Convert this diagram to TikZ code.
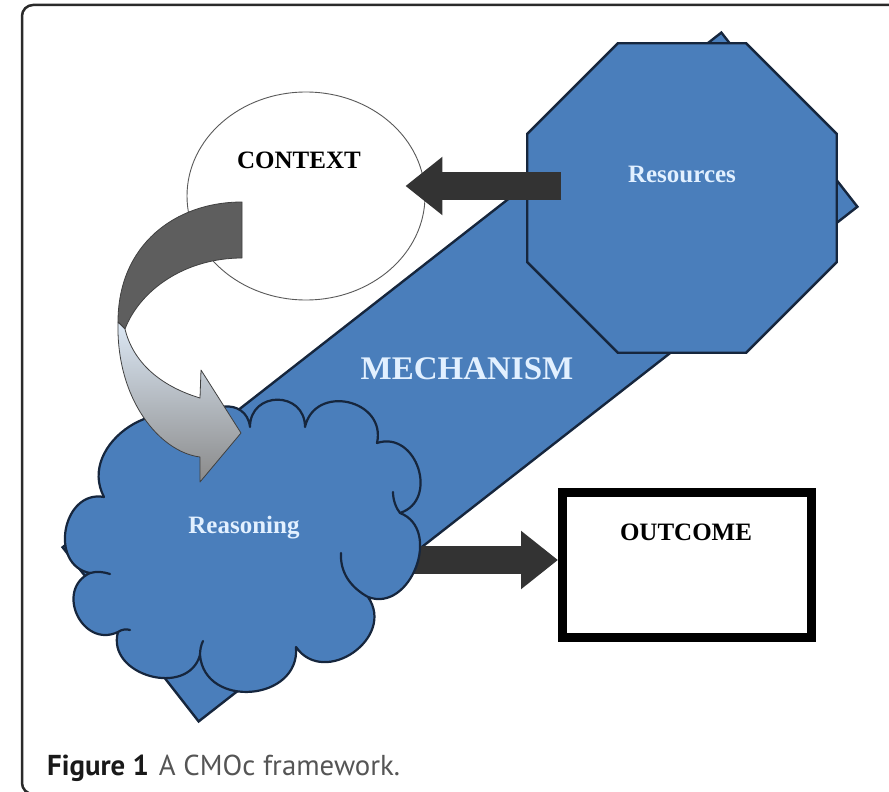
\documentclass[tikz,border=0pt]{standalone}
\usepackage{fontspec}
\setmainfont{Liberation Serif}
\newfontfamily\captionfont{PT Sans}
\usetikzlibrary{shapes.geometric,arrows.meta,calc}
\definecolor{cmoblue}{HTML}{4A7EBB}
\definecolor{cmoedge}{HTML}{16263D}
\definecolor{labelwhite}{HTML}{E2F0FF}
\definecolor{arrowdark}{HTML}{333333}
\definecolor{ribbondark}{HTML}{5E5E5E}
\definecolor{ribbonlight}{HTML}{DCE8F5}
\definecolor{ribbonmid}{HTML}{B4CBE4}
\definecolor{ribbongray}{HTML}{8A8A8A}
\definecolor{framegray}{HTML}{2A2A2A}
\definecolor{captiongray}{HTML}{555555}
\begin{document}
\begin{tikzpicture}[x=1pt,y=-1pt,
  blueshape/.style={fill=cmoblue,draw=cmoedge,line width=2.4pt,line join=miter},
  cloudline/.style={draw=cmoedge,line width=2.2pt,line cap=round},
  whitelabel/.style={text=labelwhite,font=\bfseries\fontsize{25}{28}\selectfont,inner sep=0pt},
  darklabel/.style={text=black,font=\bfseries\fontsize{25}{28}\selectfont,inner sep=0pt},
  blockarrow/.style={draw=arrowdark,line width=28pt,-{Triangle[length=37pt,width=56pt]}},
  ribbonedge/.style={draw=black!75,line width=0.8pt,line join=round},
]
\useasboundingbox (0,0) rectangle (889,792);

% rounded frame around the figure
\draw[framegray,line width=2.5pt,rounded corners=11pt] (22,5) rectangle (905,794);

% mechanism band, tilted rectangle
\node[blueshape,rectangle,rotate=38,minimum width=836pt,minimum height=221pt,inner sep=0pt]
  (mechanism) at (460,377) {};
\node[whitelabel,font=\bfseries\fontsize{33}{36}\selectfont] (mechtext) at (467,369) {MECHANISM};

% resources octagon
\node[blueshape,regular polygon,regular polygon sides=8,minimum size=335pt,inner sep=0pt]
  (resources) at (682,198) {};
\node[whitelabel] (restext) at (682,174) {Resources};

% context ellipse
\node[ellipse,draw=black!65,line width=0.9pt,fill=white,minimum width=238pt,minimum height=208pt,inner sep=0pt]
  (context) at (306,196) {};
\node[darklabel] (ctxtext) at (299,160) {CONTEXT};

% block arrow from resources to context
\coordinate (resout) at (561,186);
\draw[blockarrow] (resout) -- ($(context.east)+(-20,-10)$);

% outcome box and the block arrow leading into it
\coordinate (reasonout) at (398,560);
\node[rectangle,draw=black,line width=9pt,fill=white,minimum width=249pt,minimum height=145pt,inner sep=0pt]
  (outcome) at (687,564.5) {};
\draw[blockarrow] (reasonout) -- (reasonout -| outcome.west);
\node[darklabel] (outtext) at (686,532) {OUTCOME};

% reasoning cloud
\path[fill=cmoblue,cloudline,line join=round]
  (204,432) to[bend left=90,looseness=1.7] (250,427)
            to[bend left=90,looseness=1.7] (305,427)
            to[bend left=90,looseness=1.55] (377,443)
            to[bend left=90,looseness=1.45] (400,513)
            to[bend left=90,looseness=1.3] (368,597)
            to[bend left=90,looseness=1.45] (296,647)
            to[bend left=90,looseness=1.45] (200,655)
            to[bend left=90,looseness=1.35] (118,632)
            to[bend left=90,looseness=1.55] (90,573)
            to[bend left=90,looseness=1.4] (104,497)
            to[bend left=85,looseness=1.3] (204,432) -- cycle;
\draw[cloudline] (368,597) .. controls (350,587) and (340,572) .. (341,553);
\draw[cloudline] (90,573) .. controls (97,571) and (104,572) .. (110,574);
\draw[cloudline] (118,632) .. controls (122,629) and (127,629) .. (130,630);
\draw[cloudline] (200,655) .. controls (200,650) and (201,645) .. (203,641);
\draw[cloudline] (400,513) .. controls (396,508) and (393,500) .. (393,492);
\coordinate (reasoning) at (244,528);
\node[whitelabel] (reastext) at (reasoning) {Reasoning};

% curved arrow from context down to reasoning: back face
\path[fill=ribbondark,ribbonedge]
  (242,202) .. controls (175,202) and (118,245) .. (118,322)
  -- (125,329)
  .. controls (140,290) and (185,258) .. (242,258) -- cycle;
% front face with the arrow head
\path[ribbonedge,top color=ribbonlight,middle color=ribbonmid,bottom color=ribbongray]
  (118,322) .. controls (116,400) and (160,452) .. (200,457)
  -- (200,482) -- (241,433) -- (201,370) -- (200,398)
  .. controls (160,386) and (133,362) .. (125,329) -- cycle;

% caption
\node[anchor=base west,inner sep=0pt,font=\captionfont\fontsize{28.8}{30}\selectfont] (caption) at (47,775)
  {\textcolor{black!90}{\bfseries Figure 1}\hspace{0.35em}\textcolor{captiongray}{A CMOc framework.}};
\end{tikzpicture}
\end{document}
